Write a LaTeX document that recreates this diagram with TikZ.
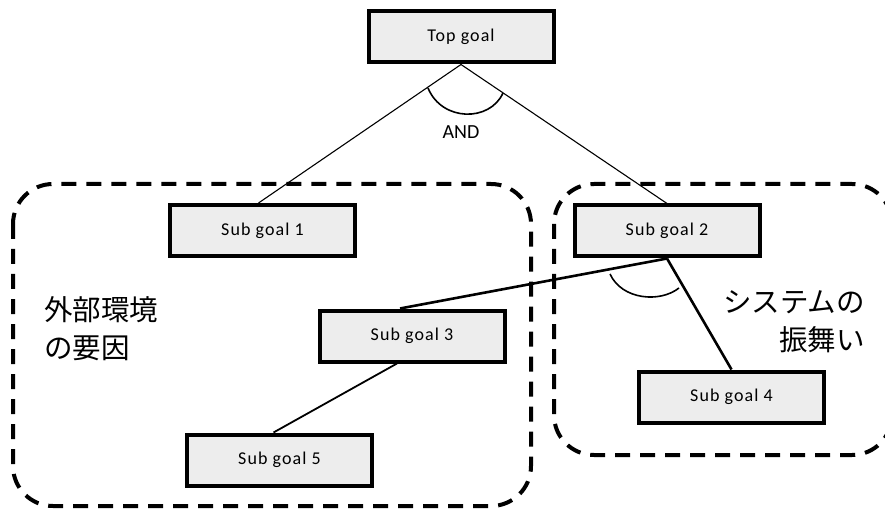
\documentclass[tikz,border=0pt]{standalone}
\usepackage{fontspec}
\setmainfont{Carlito}
\newfontfamily\jpfont{Noto Sans CJK JP}
\newfontfamily\boxfont[LetterSpace=6]{Carlito}
\begin{document}
\begin{tikzpicture}[x=1pt,y=-1pt,
  goalbox/.style={draw=black, line width=4pt, fill=gray!14, rectangle,
    minimum width=185pt, minimum height=51pt, inner sep=0pt,
    font=\boxfont\fontsize{18}{21}\selectfont},
  groupbox/.style={draw=black, line width=4pt, rounded corners=40pt,
    dash pattern=on 15pt off 10pt},
  thinlink/.style={draw=black, line width=1.1pt},
  thicklink/.style={draw=black, line width=2.6pt},
  midlink/.style={draw=black, line width=1.8pt},
  andarc/.style={draw=black, line width=1.6pt},
  jplabel/.style={font=\jpfont\fontsize{28.5}{38}\selectfont, inner sep=0pt}
]
\useasboundingbox (0,0) rectangle (885,510);

% grouping regions
\draw[groupbox] (13,184) rectangle (531,506);
\draw[groupbox] (554,184) rectangle (892,455);

% goal boxes
\node[goalbox] (top) at (461,37) {Top goal};
\node[goalbox] (sg1) at (262.5,230.5) {Sub goal 1};
\node[goalbox] (sg2) at (667,231) {Sub goal 2};
\node[goalbox] (sg3) at (412,336) {Sub goal 3};
\node[goalbox] (sg4) at (731.5,397) {Sub goal 4};
\node[goalbox] (sg5) at (279.5,460) {Sub goal 5};

% decomposition links
\draw[thinlink] (top.south) -- ([xshift=-4pt]sg1.north);
\draw[thinlink] (top.south) -- (sg2.north);
\draw[thicklink] (sg2.south) -- ([xshift=-12pt]sg3.north);
\draw[thicklink] (sg2.south) -- (sg4.north);
\draw[midlink] ([xshift=-15pt]sg3.south) -- ([xshift=-6pt]sg5.north);

% AND arcs
\coordinate (a1) at (428,88);
\coordinate (a2) at (503,93);
\draw[andarc] (a1) .. controls (442,122) and (490,122) .. (a2);
\node[font=\fontsize{20}{24}\selectfont] (andlbl) at (461,132) {AND};
\coordinate (b1) at (610,274);
\coordinate (b2) at (679,288);
\draw[andarc] (b1) .. controls (622,300) and (660,303) .. (b2);

% region labels
\node[jplabel, anchor=west] (env1) at (44,310) {外部環境};
\node[jplabel, anchor=west] (env2) at (44,348) {の要因};
\node[jplabel, anchor=east] (sys1) at (865,302) {システムの};
\node[jplabel, anchor=east] (sys2) at (865,340) {振舞い};
\end{tikzpicture}
\end{document}
